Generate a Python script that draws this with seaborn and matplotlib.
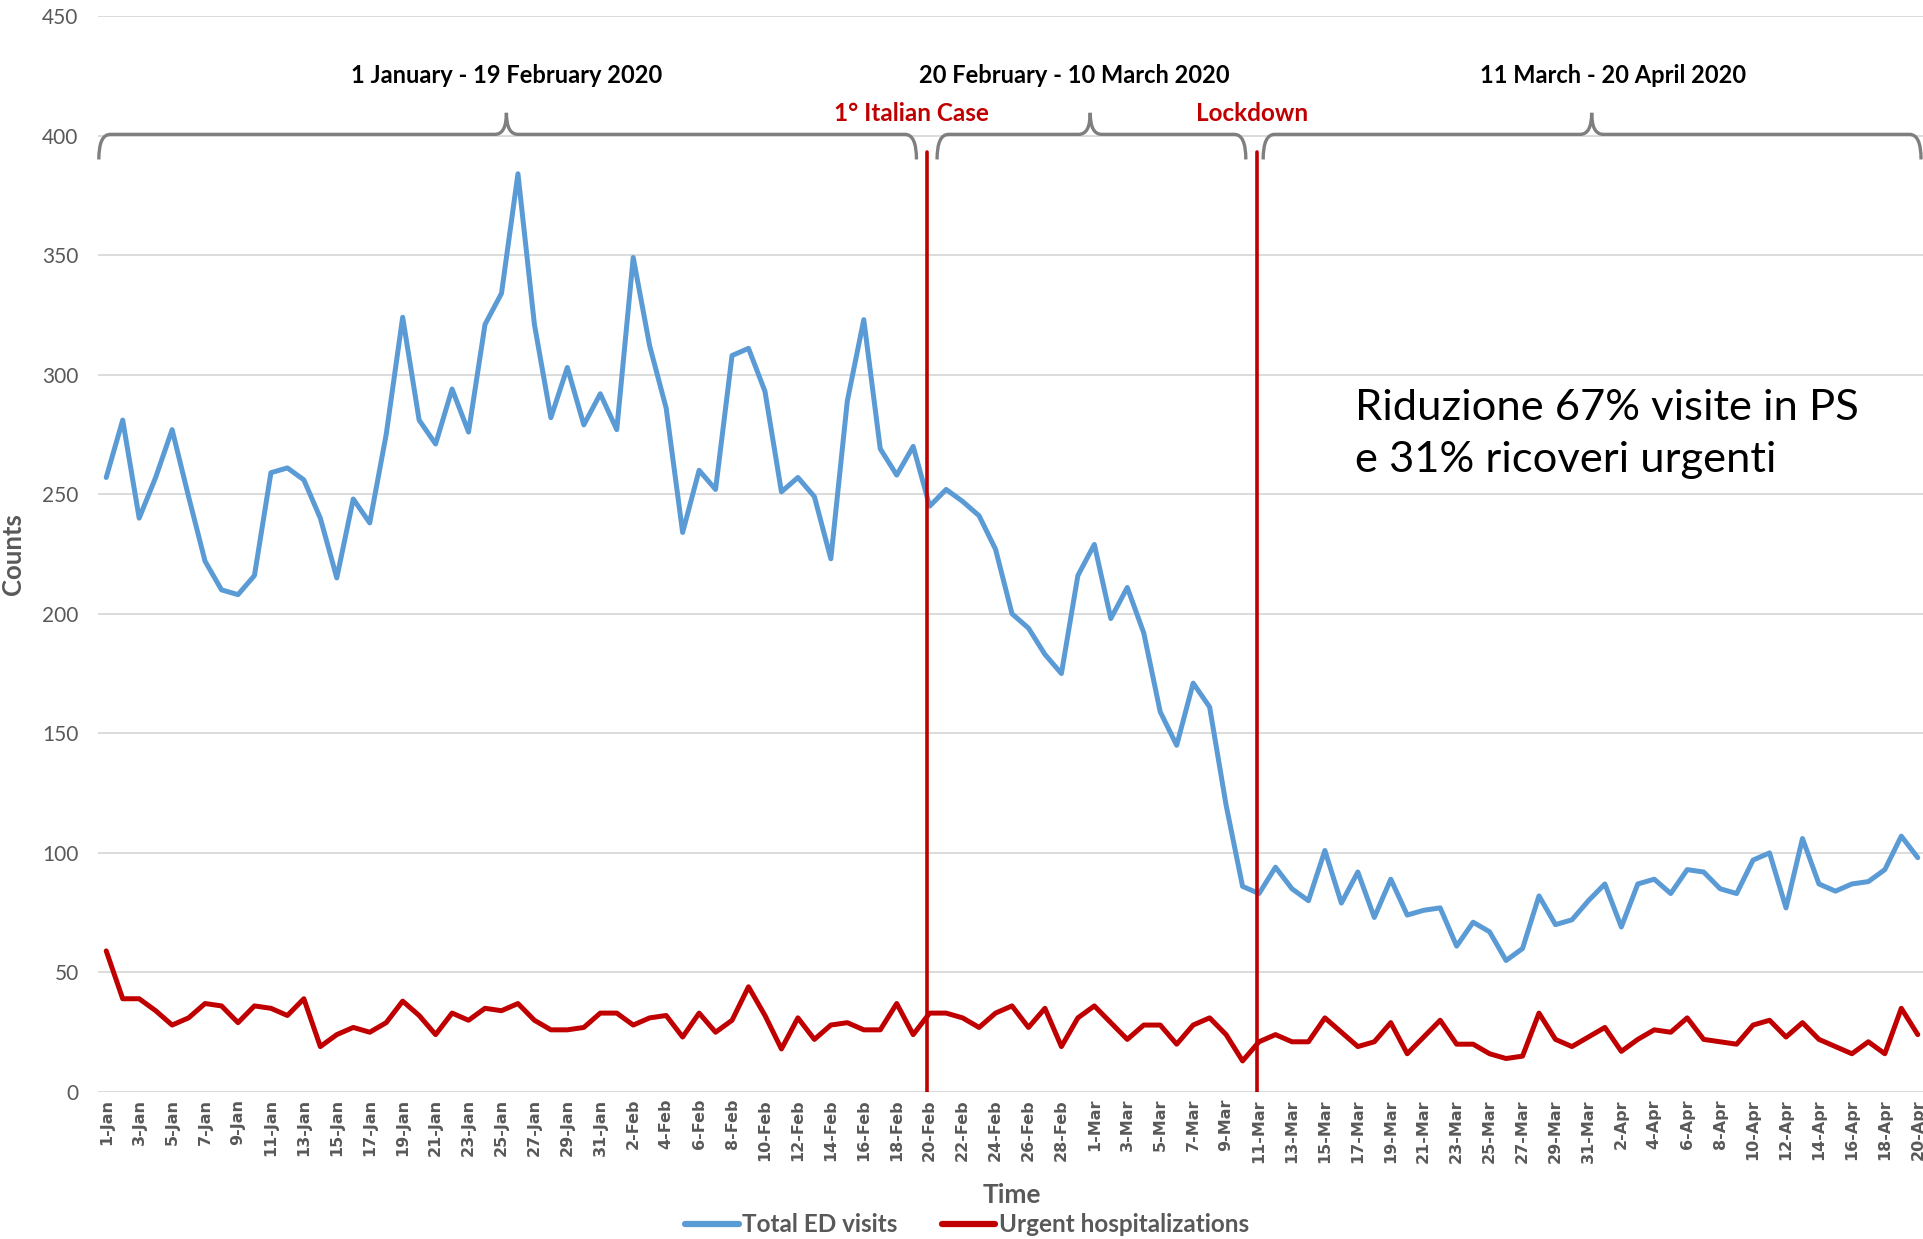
import numpy as np
import pandas as pd
import matplotlib
matplotlib.use("Agg")
import matplotlib.pyplot as plt
from matplotlib.path import Path
from matplotlib.patches import PathPatch
import seaborn as sns

# ---------------- data ----------------
dates = pd.date_range("2020-01-01", "2020-04-20", freq="D")
day_labels = [f"{d.day}-{d.strftime('%b')}" for d in dates]

total_ed_visits = [
    257, 281, 240, 257, 277, 249, 222, 210, 208, 216, 259, 261, 256, 240, 215,
    248, 238, 275, 324, 281, 271, 294, 276, 321, 334,
    384, 321, 282, 303, 279, 292, 277, 349, 312, 286, 234, 260, 252, 308, 311,
    293, 251, 257, 249, 223, 289, 323, 269, 258, 270,
    245, 252, 247, 241, 227, 200, 194, 183, 175, 216, 229, 198, 211, 192, 159,
    145, 171, 161, 120, 86,
    83, 94, 85, 80, 101, 79, 92, 73, 89, 74, 76, 77, 61, 71, 67, 55, 60, 82, 70,
    72, 80, 87, 69, 87, 89, 83, 93, 92, 85, 83, 97, 100, 77, 106, 87, 84, 87, 88,
    93, 107, 98,
]
urgent_hospitalizations = [
    59, 39, 39, 34, 28, 31, 37, 36, 29, 36, 35, 32, 39, 19, 24, 27, 25, 29, 38,
    32, 24, 33, 30, 35, 34, 37, 30, 26, 26, 27, 33, 33, 28, 31, 32, 23, 33,
    25, 30, 44, 32, 18, 31, 22, 28, 29, 26, 26, 37, 24, 33, 33, 31, 27, 33, 36,
    27, 35, 19, 31, 36, 29, 22, 28, 28, 20, 28, 31, 24, 13, 21, 24, 21, 21,
    31, 25, 19, 21, 29, 16, 23, 30, 20, 20, 16, 14, 15, 33, 22, 19, 23, 27, 17,
    22, 26, 25, 31, 22, 21, 20, 28, 30, 23, 29, 22, 19, 16, 21, 16, 35, 24,
]
series_names = ["Total ED visits", "Urgent hospitalizations"]
series_colors = ["#5B9BD5", "#C00000"]

period_labels = ["1 January - 19 February 2020",
                 "20 February - 10 March 2020",
                 "11 March - 20 April 2020"]
event_labels = ["1° Italian Case", "Lockdown"]
note_text = "Riduzione 67% visite in PS\ne 31% ricoveri urgenti"

# ---------------- figure ----------------
sns.set_theme(style="white")
plt.rcParams["font.family"] = ["Lato", "DejaVu Sans"]

df = pd.DataFrame({
    "day": list(range(len(dates))) * 2,
    "value": total_ed_visits + urgent_hospitalizations,
    "series": [series_names[0]] * len(dates) + [series_names[1]] * len(dates),
})

W, H = 1924, 1239
fig = plt.figure(figsize=(W / 100, H / 100), dpi=100)
ax = fig.add_axes([98 / W, (H - 1092) / H, 1828 / W, (1092 - 16) / H])

sns.lineplot(data=df, x="day", y="value", hue="series",
             palette=dict(zip(series_names, series_colors)),
             linewidth=3.6, ax=ax, legend=False, zorder=3)

ax.set_xlim(-0.5, 110.5)
ax.set_ylim(0, 450)
ax.set_yticks(range(0, 451, 50))
ax.tick_params(axis="y", labelsize=15, labelcolor="#595959", length=0, pad=14)
ax.set_xticks(range(0, len(dates), 2))
ax.set_xticklabels(day_labels[::2], rotation=90, fontsize=11.5, fontweight="bold",
                   color="#595959", family="DejaVu Sans")
ax.tick_params(axis="x", length=0, pad=5)
ax.grid(axis="y", color="#D9D9D9", linewidth=1.3)
ax.grid(axis="x", visible=False)
for s in ax.spines.values():
    s.set_visible(False)

ax.set_xlabel("Time", fontsize=19, fontweight="bold", color="#595959")
ax.xaxis.set_label_coords(0.5, -0.085)
ax.set_ylabel("Counts", fontsize=18.5, fontweight="bold", color="#595959")
ax.yaxis.set_label_coords(-0.040, 0.5)

# event lines
event_x = [49.85, 69.9]
for xv in event_x:
    ax.plot([xv, xv], [0, 393], color="#C00000", linewidth=2.6, zorder=4)

# braces
def brace(x0, x1, xt, yb=400.5, drop=10.5, tip=9.0, r=0.7):
    verts = [(x0, yb - drop), (x0, yb), (x0 + r, yb),
             (xt - r, yb), (xt, yb), (xt, yb + tip),
             (xt, yb), (xt + r, yb),
             (x1 - r, yb), (x1, yb), (x1, yb - drop)]
    codes = [Path.MOVETO, Path.CURVE3, Path.CURVE3, Path.LINETO,
             Path.CURVE3, Path.CURVE3, Path.CURVE3, Path.CURVE3,
             Path.LINETO, Path.CURVE3, Path.CURVE3]
    ax.add_patch(PathPatch(Path(verts, codes), facecolor="none",
                           edgecolor="#7F7F7F", linewidth=2.4, zorder=5,
                           clip_on=False))

brace_spans = [(-0.45, 49.2, 24.3), (50.45, 69.2, 59.75), (70.25, 110.2, 90.2)]
for b in brace_spans:
    brace(*b)

period_x = [24.33, 58.8, 91.5]
for xv, lab in zip(period_x, period_labels):
    ax.text(xv, 425.3, lab, ha="center", va="center", fontsize=17,
            fontweight="bold", color="black", zorder=6)

event_label_x = [48.9, 69.55]
for xv, lab in zip(event_label_x, event_labels):
    ax.text(xv, 409.4, lab, ha="center", va="center", fontsize=17.5,
            fontweight="bold", color="#C00000", zorder=6)

ax.text(75.8, 275.3, note_text, ha="left", va="center", fontsize=31.3,
        color="black", linespacing=1.45, zorder=6)

# legend
handles = [plt.Line2D([], [], color=c, linewidth=4.5) for c in series_colors]
fig.legend(handles, series_names, loc="center", bbox_to_anchor=(967 / W, 14 / H),
           ncol=2, frameon=False, handlelength=2.2, handletextpad=0.15,
           columnspacing=1.8, prop={"size": 17.5, "weight": "bold"},
           labelcolor="#595959", borderaxespad=0, borderpad=0)

fig.savefig("out.png", dpi=100)
